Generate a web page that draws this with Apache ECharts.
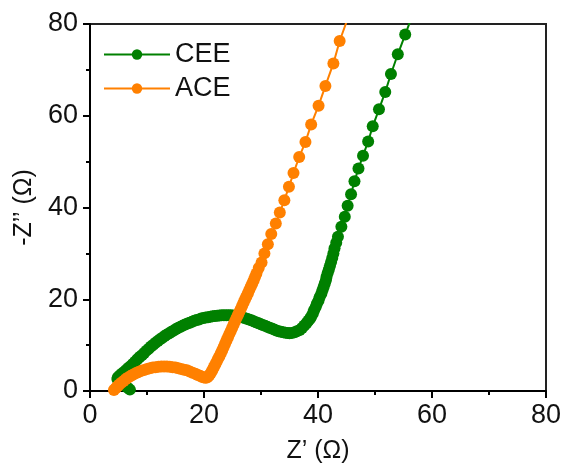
<!DOCTYPE html>
<html>
<head>
<meta charset="utf-8">
<script src="https://cdn.jsdelivr.net/npm/echarts@6/dist/echarts.min.js"></script>
<style>
  html, body { margin: 0; padding: 0; background: #fff; }
  #chart { width: 568px; height: 472px; }
</style>
</head>
<body>
<div id="chart"></div>
<script>
// Z' / -Z'' pairs
const ceeData = [
  [7.0, 0.3], [6.6, 0.7], [6.2, 1.1], [5.8, 1.5], [5.4, 1.9], [5.0, 2.3], [4.8, 2.6],
  [4.9, 3.0], [5.2, 3.3], [5.5, 3.7], [5.9, 4.1], [6.3, 4.5], [6.7, 5.0], [7.1, 5.4],
  [7.5, 5.9], [7.9, 6.4], [8.3, 6.9], [8.7, 7.4], [9.1, 7.8], [9.5, 8.3], [9.9, 8.8],
  [10.3, 9.2], [10.7, 9.7], [11.1, 10.1], [11.5, 10.5], [11.9, 10.9], [12.3, 11.3],
  [12.7, 11.6], [13.1, 12.0], [13.5, 12.3], [13.9, 12.6], [14.3, 12.9], [14.7, 13.2],
  [15.1, 13.5], [15.5, 13.8], [15.9, 14.0], [16.3, 14.3], [16.7, 14.5], [17.1, 14.7],
  [17.5, 14.9], [17.9, 15.1], [18.3, 15.3], [18.7, 15.5], [19.1, 15.6], [19.5, 15.8],
  [19.9, 15.9], [20.3, 16.0], [20.7, 16.1], [21.1, 16.2], [21.5, 16.3], [21.9, 16.35],
  [22.3, 16.4], [22.7, 16.45], [23.1, 16.5], [23.5, 16.5], [23.9, 16.5], [24.3, 16.5],
  [24.7, 16.5], [25.1, 16.45], [25.5, 16.4], [25.9, 16.3], [26.3, 16.2], [26.7, 16.05],
  [27.1, 15.9], [27.5, 15.75], [27.9, 15.6], [28.3, 15.4], [28.7, 15.2], [29.1, 15.0],
  [29.5, 14.8], [29.9, 14.6], [30.3, 14.4], [30.7, 14.2], [31.1, 14.0], [31.5, 13.8],
  [31.9, 13.6], [32.3, 13.4], [32.7, 13.2], [33.1, 13.05], [33.5, 12.9], [33.9, 12.8],
  [34.3, 12.7], [34.7, 12.65], [35.0, 12.6], [35.4, 12.65], [35.9, 12.8], [36.3, 13.0],
  [36.8, 13.3], [37.2, 13.75], [37.6, 14.3], [38.0, 14.8], [38.3, 15.3], [38.6, 15.75],
  [38.8, 16.2], [39.1, 16.9], [39.3, 17.6], [39.6, 18.3], [39.8, 19.0], [40.1, 19.75],
  [40.3, 20.5], [40.6, 21.25], [40.8, 22.0], [41.0, 22.75], [41.2, 23.5], [41.4, 24.2],
  [41.5, 24.9], [41.7, 25.7], [41.9, 26.5], [42.1, 27.3], [42.3, 28.1], [42.5, 29.0],
  [42.7, 30.0], [42.9, 31.1], [43.2, 32.3], [43.5, 33.6], [44.1, 35.8], [44.7, 38.0],
  [45.2, 40.4], [45.8, 42.9], [46.4, 45.7], [47.1, 48.5], [47.9, 51.3], [48.8, 54.4],
  [49.6, 57.7], [50.7, 61.4], [51.8, 65.2], [52.8, 69.1], [54.0, 73.4], [55.3, 77.7],
  [56.6, 82.0]
];
const aceData = [
  [4.2, 0.2], [4.5, 0.6], [4.8, 1.0], [5.1, 1.35], [5.5, 1.8], [5.9, 2.2], [6.3, 2.6],
  [6.7, 2.95], [7.2, 3.3], [7.6, 3.6], [8.1, 3.9], [8.5, 4.15], [9.0, 4.4], [9.5, 4.6],
  [10.0, 4.8], [10.5, 4.95], [11.0, 5.1], [11.5, 5.2], [12.0, 5.3], [12.5, 5.33],
  [13.0, 5.35], [13.5, 5.33], [14.0, 5.3], [14.5, 5.2], [15.0, 5.1], [15.5, 4.95],
  [16.0, 4.8], [16.5, 4.65], [17.0, 4.5], [17.5, 4.25], [18.0, 4.0], [18.5, 3.75],
  [18.9, 3.5], [19.3, 3.3], [19.6, 3.1], [19.9, 3.0], [20.2, 2.9], [20.5, 2.95],
  [20.7, 3.1], [20.95, 3.5], [21.2, 3.9], [21.45, 4.5], [21.7, 5.1], [21.95, 5.7],
  [22.2, 6.3], [22.45, 6.95], [22.7, 7.6], [22.95, 8.25], [23.2, 8.9], [23.45, 9.6],
  [23.7, 10.3], [23.95, 11.0], [24.2, 11.7], [24.45, 12.4], [24.7, 13.1], [24.95, 13.8],
  [25.2, 14.5], [25.45, 15.2], [25.7, 15.9], [25.95, 16.55], [26.2, 17.2], [26.45, 17.9],
  [26.7, 18.6], [26.95, 19.3], [27.2, 20.0], [27.45, 20.65], [27.7, 21.3], [27.95, 22.0],
  [28.2, 22.7], [28.45, 23.4], [28.7, 24.1], [28.95, 24.85], [29.2, 25.6], [29.6, 26.8],
  [30.1, 28.0], [30.6, 30.0], [31.2, 32.0], [31.8, 34.2], [32.6, 36.5], [33.3, 38.9],
  [34.1, 41.6], [34.9, 44.5], [35.7, 47.5], [36.7, 51.0], [37.8, 54.3], [38.8, 58.1],
  [40.1, 62.2], [41.3, 66.5], [42.7, 71.4], [43.8, 76.3], [45.3, 81.5]
];
const seriesNames = ['CEE', 'ACE'];
const seriesColors = ['#008000', '#ff8000'];
const xTicks = [0, 20, 40, 60, 80];
const yTicks = [0, 20, 40, 60, 80];

const fontFamily = 'Liberation Sans, Arial, sans-serif';
const chart = echarts.init(document.getElementById('chart'));

function makeSeries(name, data, color) {
  return {
    name: name,
    type: 'line',
    data: data,
    symbol: 'circle',
    symbolSize: 12,
    showAllSymbol: true,
    clip: true,
    itemStyle: { color: color },
    lineStyle: { color: color, width: 2 }
  };
}

chart.setOption({
  animation: false,
  grid: {
    left: 90, right: 22, top: 24, bottom: 81,
    show: true, borderColor: '#222', borderWidth: 2
  },
  legend: {
    orient: 'vertical',
    left: 98, top: 36,
    itemWidth: 66, itemHeight: 13, itemGap: 7,
    textStyle: { fontFamily: fontFamily, fontSize: 27, color: '#111' },
    data: seriesNames
  },
  xAxis: {
    type: 'value',
    min: xTicks[0], max: xTicks[xTicks.length - 1], interval: 20,
    name: 'Z\u2019 (\u03A9)', nameLocation: 'middle', nameGap: 48,
    nameTextStyle: { fontFamily: fontFamily, fontSize: 25, color: '#111' },
    axisLine: { lineStyle: { color: '#000', width: 2 } },
    axisTick: { show: true, length: 7, lineStyle: { width: 2, color: '#000' } },
    minorTick: { show: true, splitNumber: 2, length: 4, lineStyle: { width: 2, color: '#000' } },
    splitLine: { show: false },
    axisLabel: { fontFamily: fontFamily, fontSize: 27, color: '#111', margin: 11 }
  },
  yAxis: {
    type: 'value',
    min: yTicks[0], max: yTicks[yTicks.length - 1], interval: 20,
    name: '-Z\u2019\u2019 (\u03A9)', nameLocation: 'middle', nameGap: 38,
    nameTextStyle: { fontFamily: fontFamily, fontSize: 25, color: '#111' },
    axisLine: { lineStyle: { color: '#000', width: 2 } },
    axisTick: { show: true, length: 7, lineStyle: { width: 2, color: '#000' } },
    minorTick: { show: true, splitNumber: 2, length: 4, lineStyle: { width: 2, color: '#000' } },
    splitLine: { show: false },
    axisLabel: { fontFamily: fontFamily, fontSize: 27, color: '#111', margin: 12 }
  },
  series: [
    makeSeries(seriesNames[0], ceeData, seriesColors[0]),
    makeSeries(seriesNames[1], aceData, seriesColors[1])
  ]
});
</script>
</body>
</html>
